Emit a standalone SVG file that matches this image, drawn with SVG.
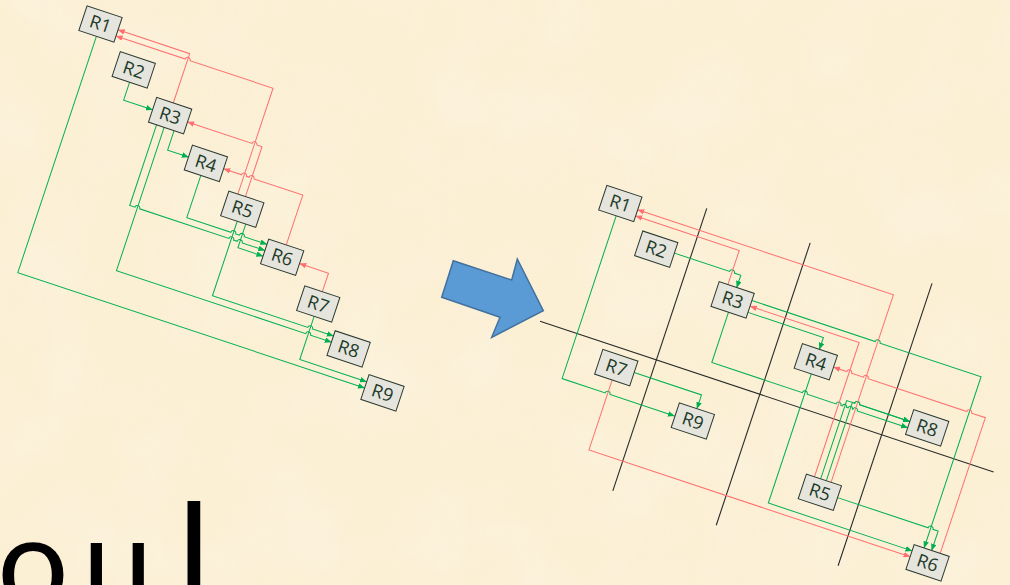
<svg xmlns="http://www.w3.org/2000/svg" width="1010" height="585" viewBox="0 0 1010 585">
<defs>
<marker id="ag" viewBox="0 0 10 8" refX="9.5" refY="4" markerWidth="7" markerHeight="5.6" orient="auto" markerUnits="userSpaceOnUse"><path d="M0,0 L10,4 L0,8 z" fill="#00B050"/></marker>
<marker id="ar" viewBox="0 0 10 8" refX="9.5" refY="4" markerWidth="7" markerHeight="5.6" orient="auto" markerUnits="userSpaceOnUse"><path d="M0,0 L10,4 L0,8 z" fill="#FF6F6F"/></marker>
<filter id="paper" x="0" y="0" width="100%" height="100%">
<feTurbulence type="fractalNoise" baseFrequency="0.012" numOctaves="3" seed="7" result="n"/>
<feColorMatrix in="n" type="matrix" values="0 0 0 0 1  0 0 0 0 0.97  0 0 0 0 0.9  0 0 0 0.9 -0.35"/>
</filter>
<style>
.bx rect{fill:#E5E4DD;stroke:#2B3A30;stroke-width:1}
.bx text{font-family:"Open Sans","Liberation Sans",sans-serif;font-size:18px;fill:#1C3A28;text-anchor:middle}
.g{fill:none;stroke:#00B050;stroke-width:1;marker-end:url(#ag)}
.r{fill:none;stroke:#FF6F6F;stroke-width:1;marker-end:url(#ar)}
.k{fill:none;stroke:#2A2A2A;stroke-width:1.1}
</style>
</defs>
<rect width="1010" height="585" fill="#FBEFD4"/>
<rect width="1010" height="585" filter="url(#paper)" opacity="0.6"/>

<g id="left" transform="translate(100.5,24) rotate(18.4)">
<g id="left-connectors">
<path class="g" d="M0,13 V262 H365.5"/>
<path class="g" d="M46,46 V65 H76.5"/>
<path class="g" d="M103.5,78 V98.5 H125.5"/>
<path class="g" d="M85,78 V163 H90.5 a2.5,2.5 0 0 1 5,0 H189.5 a2.5,2.5 0 0 1 5,0 H198.5 a2.5,2.5 0 0 1 5,0 H227.5"/>
<path class="g" d="M93,78 V229 H292.5 a2.5,2.5 0 0 1 5,0 H319.5"/>
<path class="g" d="M143,112 V156.5 H189.5 a2.5,2.5 0 0 1 5,0 H198.5 a2.5,2.5 0 0 1 5,0 H227.5"/>
<path class="g" d="M201,144 V169 H227.5"/>
<path class="g" d="M192,144 V222.5 H292.5 a2.5,2.5 0 0 1 5,0 H319.5"/>
<path class="g" d="M295,210 V255.5 H365.5"/>
<path class="r" d="M94,52 V0 H18.5"/>
<path class="r" d="M184,118 V6.5 H96.5 a2.5,2.5 0 0 0 -5,0 H18.5"/>
<path class="r" d="M192,118 V65.5 H186.5 a2.5,2.5 0 0 0 -5,0 H113.5"/>
<path class="r" d="M246,151 V98.5 H194.5 a2.5,2.5 0 0 0 -5,0 H186.5 a2.5,2.5 0 0 0 -5,0 H162.5"/>
<path class="r" d="M295,184 V164.5 H264.5"/>
</g>
<g id="L-R1" class="bx"><rect x="-18.5" y="-13" width="37" height="26"/><text x="0" y="6.3">R1</text></g>
<g id="L-R2" class="bx"><rect x="27.5" y="20" width="37" height="26"/><text x="46" y="39.3">R2</text></g>
<g id="L-R3" class="bx"><rect x="76.5" y="52" width="37" height="26"/><text x="95" y="71.3">R3</text></g>
<g id="L-R4" class="bx"><rect x="125.5" y="86" width="37" height="26"/><text x="144" y="105.3">R4</text></g>
<g id="L-R5" class="bx"><rect x="174.5" y="118" width="37" height="26"/><text x="193" y="137.3">R5</text></g>
<g id="L-R6" class="bx"><rect x="227.5" y="151" width="37" height="26"/><text x="246" y="170.3">R6</text></g>
<g id="L-R7" class="bx"><rect x="276.5" y="184" width="37" height="26"/><text x="295" y="203.3">R7</text></g>
<g id="L-R8" class="bx"><rect x="319.5" y="217" width="37" height="26"/><text x="338" y="236.3">R8</text></g>
<g id="L-R9" class="bx"><rect x="365.5" y="248" width="37" height="26"/><text x="384" y="267.3">R9</text></g>
</g>

<polygon id="big-arrow" points="453.3,260.7 511.7,280 517.3,259 543.3,310.7 491.7,337.3 500,317.3 441.7,297.3" fill="#5B9BD5" stroke="#41719C" stroke-width="1.5" stroke-linejoin="miter"/>

<g id="right" transform="translate(620.3,203.5) rotate(18.4)">
<g id="partition-lines">
<path class="k" d="M-39,137 H439"/>
<path class="k" d="M83.6,-22.6 V275"/>
<path class="k" d="M192.6,-22.6 V275"/>
<path class="k" d="M321,-22.6 V275"/>
</g>
<g id="right-connectors">
<path class="g" d="M0,13 V184.5 H45.5 a2.5,2.5 0 0 1 5,0 H118.5"/>
<path class="g" d="M66.5,156 H137.5 V170.5"/>
<path class="g" d="M67,30 H125.2 a2.5,2.5 0 0 1 5,0 H137 V43"/>
<path class="g" d="M155.5,63 H235 V75.5"/>
<path class="g" d="M155.5,50.5 H285.5 a2.5,2.5 0 0 1 5,0 H397 V231"/>
<path class="g" d="M235,101.5 V237.5 H386.5"/>
<path class="g" d="M299,210.5 H394.5 a2.5,2.5 0 0 1 5,0 H405 V231"/>
<path class="g" d="M137,69 V122 H232.5 a2.5,2.5 0 0 1 5,0 H268 a2.5,2.5 0 0 1 5,0 H274.6 a2.2,2.2 0 0 1 4.4,0 H280.8 a2.2,2.2 0 0 1 4.4,0 H285.7 a2.3,2.3 0 0 1 4.6,0 H343.5"/>
<path class="g" d="M283,198 V115.5 H285.5 a2.5,2.5 0 0 1 5,0 H343.5"/>
<path class="g" d="M277,198 V115.5 H285.5 a2.5,2.5 0 0 1 5,0 H343.5"/>
<path class="r" d="M127.7,43 V7 H18.5"/>
<path class="r" d="M288,198 V0.5 H18.5"/>
<path class="r" d="M270.5,198 V56.5 H155.5"/>
<path class="r" d="M414,231 V88 H399.5 a2.5,2.5 0 0 0 -5,0 H290.5 a2.5,2.5 0 0 0 -5,0 H273 a2.5,2.5 0 0 0 -5,0 H254"/>
<path class="r" d="M48,170 V243.7 H386.5"/>
</g>
<g id="R-R1" class="bx"><rect x="-18.5" y="-13" width="37" height="26"/><text x="0" y="6.3">R1</text></g>
<g id="R-R2" class="bx"><rect x="30" y="19" width="37" height="26"/><text x="48.5" y="38.3">R2</text></g>
<g id="R-R3" class="bx"><rect x="118.5" y="43" width="37" height="26"/><text x="137" y="62.3">R3</text></g>
<g id="R-R4" class="bx"><rect x="217" y="75.5" width="37" height="26"/><text x="235.5" y="94.8">R4</text></g>
<g id="R-R8" class="bx"><rect x="343.5" y="103" width="37" height="26"/><text x="362" y="122.3">R8</text></g>
<g id="R-R7" class="bx"><rect x="29.5" y="144" width="37" height="26"/><text x="48" y="163.3">R7</text></g>
<g id="R-R9" class="bx"><rect x="119" y="170.5" width="37" height="26"/><text x="137.5" y="189.8">R9</text></g>
<g id="R-R5" class="bx"><rect x="262" y="198" width="37" height="26"/><text x="280.5" y="217.3">R5</text></g>
<g id="R-R6" class="bx"><rect x="386.5" y="231" width="37" height="26"/><text x="405" y="250.3">R6</text></g>
</g>

<text id="big-text" y="607" font-family="Lato, Open Sans, Liberation Sans, sans-serif" font-size="126" fill="#000"><tspan x="-2.7">o</tspan><tspan x="82.5">u</tspan><tspan x="177" font-size="143">l</tspan></text>
</svg>
